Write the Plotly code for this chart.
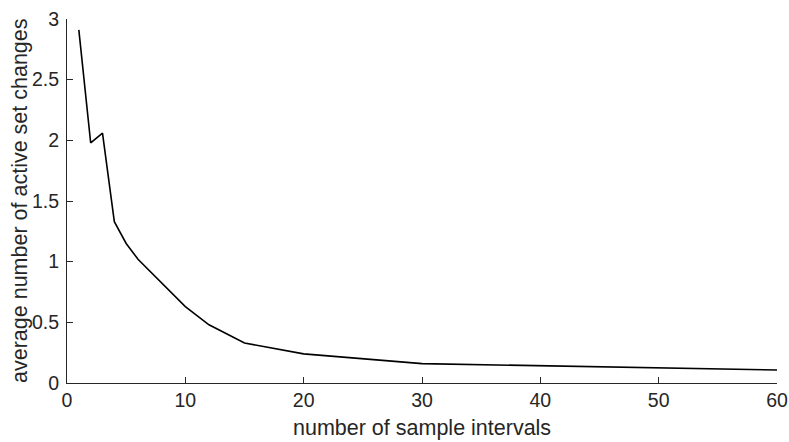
import plotly.graph_objects as go

intervals = [1, 2, 3, 4, 5, 6, 10, 12, 15, 20, 30, 60]
avg_changes = [2.91, 1.98, 2.06, 1.33, 1.15, 1.02, 0.63, 0.48, 0.33, 0.24, 0.16, 0.107]

x_ticks = [0, 10, 20, 30, 40, 50, 60]
y_ticks = [0, 0.5, 1, 1.5, 2, 2.5, 3]
y_tick_text = ["0", "0.5", "1", "1.5", "2", "2.5", "3"]
x_title = "number of sample intervals"
y_title = "average number of active set changes"

axis_color = "#262626"
family = "Liberation Sans, Arial, sans-serif"
tick_font = dict(family=family, size=19.5, color=axis_color)
title_font = dict(family=family, size=21.5, color=axis_color)

fig = go.Figure(go.Scatter(x=intervals, y=avg_changes, mode="lines",
                           line=dict(color="black", width=1.6)))

fig.update_layout(
    width=789, height=442,
    margin=dict(l=67, r=12, t=18.5, b=58.7),
    plot_bgcolor="white", paper_bgcolor="white",
    showlegend=False, font=tick_font,
    annotations=[
        dict(text=x_title, xref="paper", yref="paper", x=0.5, y=0,
             xanchor="center", yanchor="middle", yshift=-45, showarrow=False,
             font=title_font),
        dict(text=y_title, xref="paper", yref="paper", x=0, y=0.5,
             xanchor="center", yanchor="middle", xshift=-47, textangle=-90,
             showarrow=False, font=title_font),
    ],
)
fig.update_xaxes(range=[0, 60], tickvals=x_ticks, ticks="inside", ticklen=6,
                 tickcolor=axis_color, showline=True, linecolor=axis_color, linewidth=1,
                 showgrid=False, zeroline=False, automargin=False,
                 ticklabeloverflow="allow")
fig.update_yaxes(range=[0, 3], tickvals=y_ticks, ticktext=y_tick_text, ticks="inside",
                 ticklen=6, tickcolor=axis_color, showline=True, linecolor=axis_color,
                 linewidth=1, showgrid=False, zeroline=False, automargin=False,
                 ticklabeloverflow="allow", ticklabelstandoff=3)

fig.write_html(
    "out.html",
    config={"displayModeBar": False},
    post_script="document.body.style.margin='0';"
                "document.body.style.overflow='hidden';"
                "document.documentElement.style.overflow='hidden';",
)
